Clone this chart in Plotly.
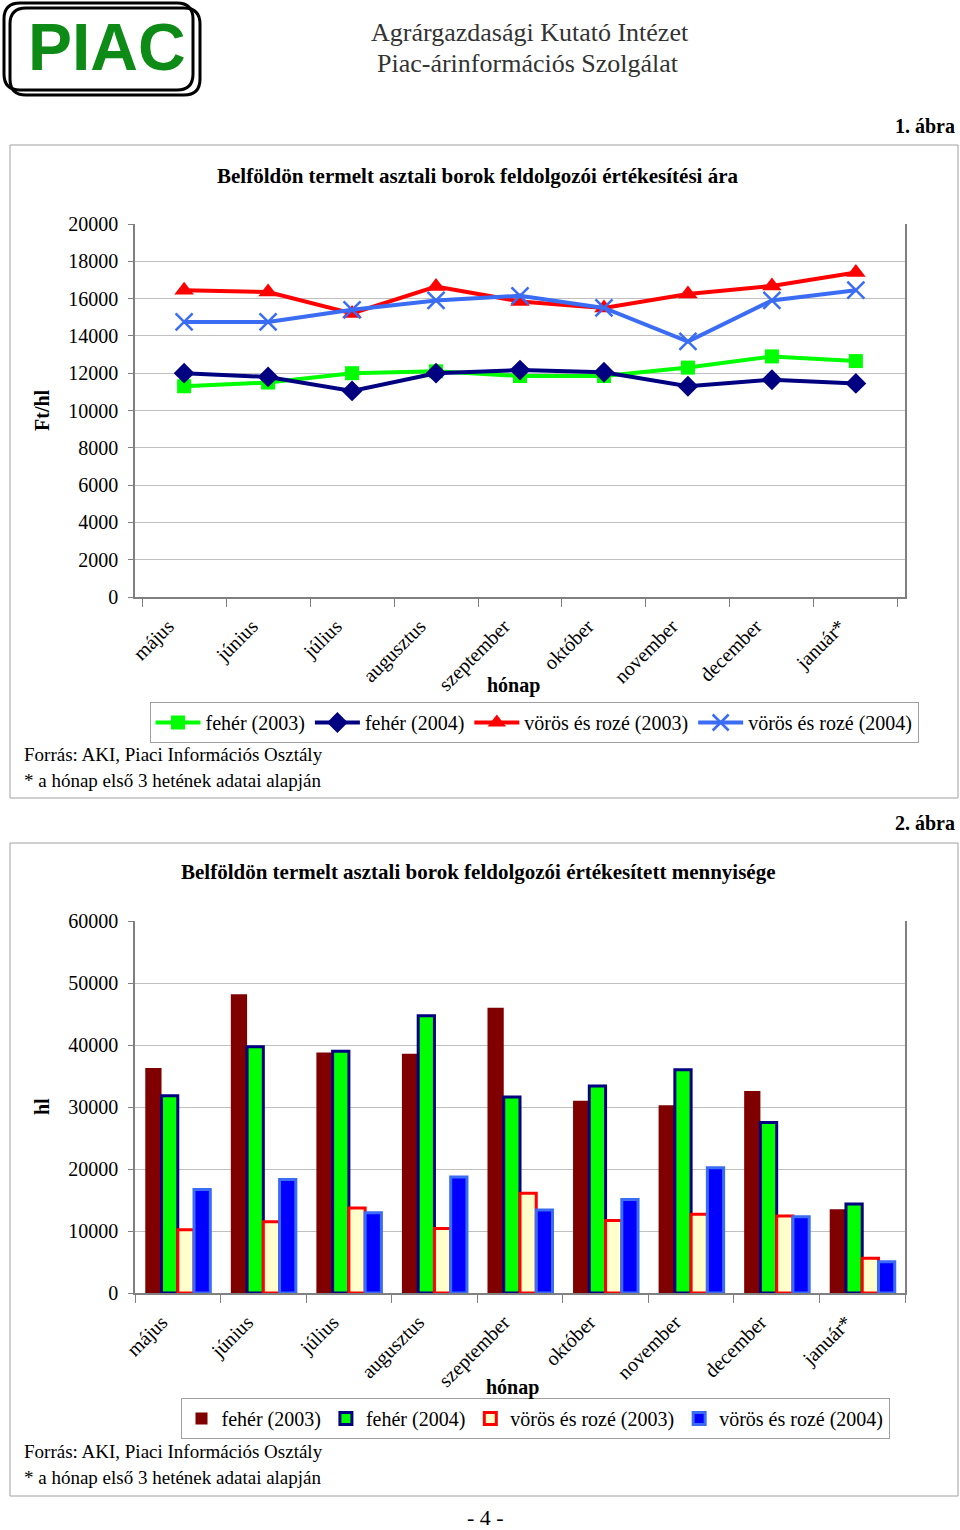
import plotly.graph_objects as go

W, H = 960, 1530

months = ["május", "június", "július", "augusztus", "szeptember", "október",
          "november", "december", "január*"]

# Chart 1: price (Ft/hl)
price_feher_2003 = [11300, 11500, 12000, 12100, 11850, 11850, 12300, 12900, 12650]
price_feher_2004 = [12000, 11800, 11050, 12000, 12170, 12050, 11300, 11650, 11450]
price_voros_2003 = [16450, 16350, 15200, 16650, 15850, 15500, 16250, 16680, 17400]
price_voros_2004 = [14750, 14750, 15400, 15900, 16150, 15500, 13700, 15900, 16450]

# Chart 2: quantity (hl)
qty_feher_2003 = [36300, 48200, 38800, 38600, 46000, 31000, 30300, 32600, 13500]
qty_feher_2004 = [31800, 39700, 39000, 44700, 31600, 33400, 36000, 27500, 14350]
qty_voros_2003 = [10200, 11500, 13700, 10400, 16100, 11700, 12700, 12400, 5600]
qty_voros_2004 = [16700, 18300, 12950, 18700, 13400, 15100, 20200, 12300, 5050]

series_names = ["fehér (2003)", "fehér (2004)", "vörös és rozé (2003)", "vörös és rozé (2004)"]

SERIF = "Liberation Serif"


def px(x):
    return x / W


def py(y):
    return 1 - y / H


fig = go.Figure()

# ---- line chart ----
fig.add_trace(go.Scatter(x=months, y=price_feher_2003, name=series_names[0], mode="lines+markers",
                         line=dict(color="#00ff00", width=4),
                         marker=dict(symbol="square", size=14, color="#00ff00"),
                         xaxis="x", yaxis="y", legend="legend"))
fig.add_trace(go.Scatter(x=months, y=price_feher_2004, name=series_names[1], mode="lines+markers",
                         line=dict(color="#000080", width=4),
                         marker=dict(symbol="diamond", size=16, color="#000080"),
                         xaxis="x", yaxis="y", legend="legend"))
fig.add_trace(go.Scatter(x=months, y=price_voros_2003, name=series_names[2], mode="lines+markers",
                         line=dict(color="#ff0000", width=4),
                         marker=dict(symbol="triangle-up", size=17, color="#ff0000"),
                         xaxis="x", yaxis="y", legend="legend"))
fig.add_trace(go.Scatter(x=months, y=price_voros_2004, name=series_names[3], mode="lines+markers",
                         line=dict(color="#3a6cf4", width=4),
                         marker=dict(symbol="x-thin", size=17, color="#3a6cf4",
                                     line=dict(color="#3a6cf4", width=2.5)),
                         xaxis="x", yaxis="y", legend="legend"))

# ---- bar chart ----
fig.add_trace(go.Bar(x=months, y=qty_feher_2003, name=series_names[0],
                     marker=dict(color="#800000", line=dict(width=0)),
                     xaxis="x2", yaxis="y2", legend="legend2"))
fig.add_trace(go.Bar(x=months, y=qty_feher_2004, name=series_names[1],
                     marker=dict(color="#00ff00", line=dict(color="#000080", width=3)),
                     xaxis="x2", yaxis="y2", legend="legend2"))
fig.add_trace(go.Bar(x=months, y=qty_voros_2003, name=series_names[2],
                     marker=dict(color="#ffffcc", line=dict(color="#ff0000", width=3)),
                     xaxis="x2", yaxis="y2", legend="legend2"))
fig.add_trace(go.Bar(x=months, y=qty_voros_2004, name=series_names[3],
                     marker=dict(color="#0000ff", line=dict(color="#3a6cf4", width=3)),
                     xaxis="x2", yaxis="y2", legend="legend2"))

xdom = [px(135), px(905)]
tickfont = dict(family=SERIF, size=20, color="black")

common_x = dict(domain=xdom, type="category", showgrid=False, showline=True,
                linecolor="#808080", linewidth=1.5, ticks="outside", tickson="boundaries",
                ticklen=8, tickcolor="#808080", tickangle=-45, tickfont=tickfont,
                ticklabelshift=-16, ticklabelstandoff=8,
                fixedrange=True, automargin=False)
common_y = dict(showgrid=True, gridcolor="#c0c0c0", gridwidth=1, showline=True,
                linecolor="#808080", linewidth=1.5, mirror=True, ticks="outside", ticklen=5,
                tickcolor="#808080", tickfont=tickfont, zeroline=False, fixedrange=True,
                ticklabelstandoff=6, tickformat="d", automargin=False)

fig.update_layout(
    width=W, height=H, autosize=False,
    margin=dict(l=0, r=0, t=0, b=0, pad=0, autoexpand=False),
    paper_bgcolor="white", plot_bgcolor="white",
    font=dict(family=SERIF, size=20, color="black"),
    barmode="group", bargap=0.24, bargroupgap=0.0,
    xaxis=dict(common_x, anchor="y"),
    yaxis=dict(common_y, domain=[py(597), py(224)], range=[0, 20000], dtick=2000, anchor="x"),
    xaxis2=dict(common_x, anchor="y2"),
    yaxis2=dict(common_y, domain=[py(1293), py(921)], range=[0, 60000], dtick=10000, anchor="x2"),
    legend=dict(orientation="h", x=px(534), y=py(702), xanchor="center", yanchor="top",
                bordercolor="#a0a0a0", borderwidth=1, font=dict(family=SERIF, size=20),
                itemwidth=45, tracegroupgap=0, itemclick=False, itemdoubleclick=False,
                bgcolor="white"),
    legend2=dict(orientation="h", x=px(535), y=py(1398), xanchor="center", yanchor="top",
                 bordercolor="#a0a0a0", borderwidth=1, font=dict(family=SERIF, size=20),
                 itemwidth=30, tracegroupgap=0, itemclick=False, itemdoubleclick=False,
                 bgcolor="white"),
    showlegend=True,
)


def rounded_rect(x0, y0, x1, y1, r):
    X = lambda v: f"{px(v):.5f}"
    Y = lambda v: f"{py(v):.5f}"
    return (f"M {X(x0 + r)},{Y(y0)} L {X(x1 - r)},{Y(y0)} Q {X(x1)},{Y(y0)} {X(x1)},{Y(y0 + r)} "
            f"L {X(x1)},{Y(y1 - r)} Q {X(x1)},{Y(y1)} {X(x1 - r)},{Y(y1)} "
            f"L {X(x0 + r)},{Y(y1)} Q {X(x0)},{Y(y1)} {X(x0)},{Y(y1 - r)} "
            f"L {X(x0)},{Y(y0 + r)} Q {X(x0)},{Y(y0)} {X(x0 + r)},{Y(y0)} Z")


shapes = [
    dict(type="rect", xref="paper", yref="paper", x0=px(10), x1=px(958), y0=py(145), y1=py(798),
         line=dict(color="#a0a0a0", width=1), layer="below"),
    dict(type="rect", xref="paper", yref="paper", x0=px(10), x1=px(958), y0=py(843), y1=py(1496),
         line=dict(color="#a0a0a0", width=1), layer="below"),
    dict(type="path", xref="paper", yref="paper", path=rounded_rect(4, 3, 193, 90, 16),
         line=dict(color="black", width=3)),
    dict(type="path", xref="paper", yref="paper", path=rounded_rect(10, 8, 200, 95, 16),
         line=dict(color="black", width=3)),
]
fig.update_layout(shapes=shapes)

ann = []


def text(x, y, s, size=20, bold=False, anchor="center", color="black", angle=0, family=SERIF):
    ann.append(dict(xref="paper", yref="paper", x=px(x), y=py(y), text=f"<b>{s}</b>" if bold else s,
                    showarrow=False, xanchor=anchor, yanchor="middle", textangle=angle,
                    font=dict(family=family, size=size, color=color)))


ann.append(dict(xref="paper", yref="paper", x=px(107), y=py(47), text="<b>PIAC</b>", showarrow=False,
                xanchor="center", yanchor="middle",
                font=dict(family="Liberation Sans", size=66, color="#0e8a16")))
text(530, 32, "Agrárgazdasági Kutató Intézet", size=26, color="#333333")
text(528, 64, "Piac-árinformációs Szolgálat", size=26, color="#333333")

text(957, 126, "1. ábra", size=20, bold=True, anchor="right")
text(478, 176, "Belföldön termelt asztali borok feldolgozói értékesítési ára", size=21, bold=True)
text(42, 410, "Ft/hl", size=20, bold=True, angle=-90)
text(513, 686, "hónap", size=20, bold=True)
text(22, 754, "Forrás: AKI, Piaci Információs Osztály", size=19, anchor="left")
text(22, 780, "* a hónap első 3 hetének adatai alapján", size=19, anchor="left")

text(957, 823, "2. ábra", size=20, bold=True, anchor="right")
text(478, 872, "Belföldön termelt asztali borok feldolgozói értékesített mennyisége", size=21, bold=True)
text(42, 1107, "hl", size=20, bold=True, angle=-90)
text(512, 1387, "hónap", size=20, bold=True)
text(22, 1451, "Forrás: AKI, Piaci Információs Osztály", size=19, anchor="left")
text(22, 1477, "* a hónap első 3 hetének adatai alapján", size=19, anchor="left")

text(485, 1517, "- 4 -", size=22)

fig.update_layout(annotations=ann)

fig.write_html("out.html", config={"displayModeBar": False},
               post_script="document.body.style.margin='0';")
